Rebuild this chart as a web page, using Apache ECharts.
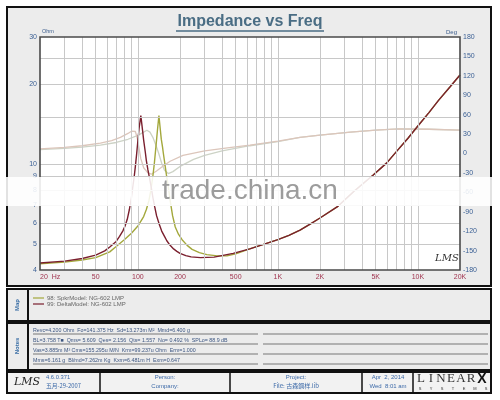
<!DOCTYPE html>
<html><head><meta charset="utf-8">
<script src="https://cdn.jsdelivr.net/npm/echarts@6/dist/echarts.min.js"></script>
<style>html,body{margin:0;padding:0;background:#fff}#c{width:500px;height:400px}</style>
</head><body><div id="c"></div>
<script>
// ---------- data ----------
const freqTicks = [20, 50, 100, 200, 500, 1000, 2000, 5000, 10000, 20000];
const freqTickLabels = ['20  Hz', '50', '100', '200', '500', '1K', '2K', '5K', '10K', '20K'];
const ohmTicks = [4, 5, 6, 7, 8, 9, 10, 20, 30];
const vGridFreqs = [30,40,50,60,70,80,90,100,200,300,400,500,600,700,800,900,1000,2000,3000,4000,5000,6000,7000,8000,9000,10000];
const hGridOhms = [5, 6, 7, 8, 9, 10, 15, 20, 25];

const freqDelta = [20,30,40,50,58,63,70,74,78,81,84,87,90,92,94,96,98,100,102,105,108,110,113,115,118,121,125,128,132,136,142,148,155,161,170,180,190,200,220,240,280,350,480,630,800,1000,1200,1440,1700,2000,2650,3500,4800,6000,7200,8500,10000,12000,14000,17000,20000];
const zDelta    = [4.25,4.32,4.42,4.55,4.72,4.88,5.12,5.35,5.6,5.85,6.2,6.75,7.5,8.2,8.9,9.8,10.9,12.2,13.6,15.2,13.4,12.3,11.1,10.3,9.5,8.9,8.1,7.5,6.9,6.4,5.95,5.6,5.35,5.15,4.95,4.8,4.7,4.62,4.53,4.48,4.45,4.47,4.62,4.8,5.0,5.2,5.4,5.65,5.95,6.27,6.9,7.9,9.1,10.1,11.3,12.5,13.9,15.6,17.3,19.5,21.6];

const freqSpkr = [20,30,40,50,63,70,80,90,100,110,115,120,124,128,131,135,138,141.4,144,147,150,152,156,160,165,170,177,185,195,207,225,244,275,311,370,433,500,630,800,1000,1200,1440,1700,2000,2650,3500,4800,6000,7200,8500,10000,12000,14000,17000,20000];
const zSpkr    = [4.22,4.28,4.36,4.45,4.68,4.9,5.2,5.5,5.85,6.35,6.75,7.3,8.0,9.0,10.0,11.8,13.4,15.2,13.8,12.4,11.6,11.0,10.0,9.1,8.2,7.3,6.4,5.8,5.45,5.2,4.95,4.78,4.65,4.57,4.52,4.52,4.6,4.8,5.0,5.2,5.4,5.65,5.95,6.27,6.9,7.9,9.1,10.1,11.3,12.5,13.9,15.6,17.3,19.5,21.6];

const freqPhDelta = [20,30,40,54,65,75,85,90,93,96,99,102,105,110,118,125,136,150,170,210,300,450,632,1000,1440,2000,3300,5000,7300,12000,20000];
const phDelta     = [7,9.5,12,16,20,25,31,34.5,36,34,24,8,-8,-22,-30,-32,-27,-20,-12,-3,4,9,13,19,25,28.5,33,36,38,37.5,36];

const freqPhSpkr = [20,30,40,54,70,85,100,110,116,122,128,135,141,148,155,165,178,200,250,300,400,632,1000,1440,2000,3300,5000,7300,12000,20000];
const phSpkr     = [6,8,10,13,17,22,28,33,36,33,25,12,0,-15,-26,-31,-28,-20,-9,-3,4,12,18.5,25,28.5,33,36,38,37.5,36];

const notesLines = [
  'Revc=4.200 Ohm  Fo=141.375 Hz  Sd=13.273m M²  Mmd=6.400 g',
  'BL=3.758 T■  Qms= 5.609  Qes= 2.156  Qts= 1.557  No= 0.492 %  SPLo= 88.9 dB',
  'Vas=3.885m M³ Cms=155.295u M/N  Krm=99.237u Ohm  Erm=1.000',
  'Mms=6.161 g  Bl/md=7.262m Kg  Kxm=6.481m H  Exm=0.647'
];
const legendNames = ['98: SpkrModel: NG-602 LMP', '99: DeltaModel: NG-602 LMP'];

// ---------- colours ----------
const cDelta = '#7a1f2e', cSpkr = '#a3a83c', cPhDelta = '#dcc6bb', cPhSpkr = '#cdd3c6';
const FONT = '"Liberation Sans", Arial, sans-serif';

const zip = (a, b) => a.map((v, i) => [v, b[i]]);

// ---------- graphics helpers ----------
const G = [];
function T(x, y, text, size, color, o) {
  o = o || {};
  const el = { type: 'text', x: x, y: y, z: o.z == null ? 20 : o.z, silent: true,
    style: { text: text, fontSize: size, fill: color, fontFamily: o.f || FONT,
      fontWeight: o.w || 'normal', fontStyle: o.it || 'normal',
      align: o.a || 'left', textAlign: o.a || 'left',
      verticalAlign: 'middle', textVerticalAlign: 'middle' } };
  if (o.rot) el.rotation = o.rot;
  G.push(el);
}
function R(x, y, w, h, fill, stroke, lw, z) {
  G.push({ type: 'rect', z: z == null ? -10 : z, silent: true, shape: { x: x, y: y, width: w, height: h },
    style: { fill: fill || 'none', stroke: stroke || 'none', lineWidth: lw || 0 } });
}
function L(x1, y1, x2, y2, color, lw, z) {
  G.push({ type: 'line', z: z == null ? -5 : z, silent: true, shape: { x1: x1, y1: y1, x2: x2, y2: y2 },
    style: { stroke: color, lineWidth: lw || 1 } });
}

// chart panel
R(7, 7, 484, 279, '#ececec', '#111', 2, -10);
// title
T(250, 22, 'Impedance vs Freq', 16, '#4a6d84', { a: 'center', w: 'bold' });
L(176, 31, 324, 31, '#4a6d84', 1.5, 20);
// axis names
T(42, 31, 'Ohm', 5.5, '#3a5c8c');
T(457, 32, 'Deg', 6, '#3a5c8c', { a: 'right' });
// LMS mark in plot
T(435, 258, 'LMS', 10, '#333', { it: 'italic', f: '"DejaVu Serif", serif' });
// plot frame
R(40, 37, 420, 233, null, '#4a4a4a', 1.6, 10);

// Map panel
R(7, 289, 484, 32, '#ececec', '#111', 2, -10);
L(28, 289, 28, 321, '#111', 2, -5);
T(17, 305, 'Map', 6, '#3a6ea5', { a: 'center', w: 'bold', rot: Math.PI / 2 });
L(33, 298, 44, 298, cSpkr, 1.2, 20);
L(33, 304, 44, 304, cDelta, 1.2, 20);
T(47, 298, legendNames[0], 6, '#666');
T(47, 304, legendNames[1], 6, '#666');

// Notes panel
R(7, 323, 484, 47, '#ececec', '#111', 2, -10);
L(28, 323, 28, 370, '#111', 2, -5);
T(17, 346, 'Notes', 6, '#3a6ea5', { a: 'center', w: 'bold', rot: Math.PI / 2 });
notesLines.forEach(function (s, i) {
  const y = 331 + i * 10;
  T(33, y, s, 5.3, '#3b5580');
  L(33, y + 3, 258, y + 3, '#777', 1, -5);
  L(263, y + 3, 488, y + 3, '#777', 1, -5);
});

// Footer
R(7, 372, 484, 21, '#f2f2f2', '#111', 2, -10);
[100, 230, 362, 413].forEach(function (x) { L(x, 372, x, 393, '#111', 1.5, -5); });
T(14, 382, 'LMS', 11, '#222', { it: 'italic', f: '"DejaVu Serif", serif' });
T(46, 377, '4.6.0.371', 5.8, '#3d6aa8');
T(46, 386, '五月-29-2007', 5.8, '#3d6aa8', { f: '"Noto Sans CJK SC", sans-serif' });
T(165, 377, 'Person:', 6, '#3d6aa8', { a: 'center' });
T(165, 386, 'Company:', 6, '#3d6aa8', { a: 'center' });
T(296, 377, 'Project:', 6, '#3d6aa8', { a: 'center' });
T(296, 386, 'File: 古森鋼样.lib', 6, '#3d6aa8', { a: 'center', f: '"Noto Sans CJK SC", sans-serif' });
T(388, 377, 'Apr  2, 2014', 6, '#3d6aa8', { a: 'center' });
T(388, 386, 'Wed  8:01 am', 6, '#3d6aa8', { a: 'center' });
['L','I','N','E','A','R'].forEach(function (ch, i) {
  T(421 + i * 10, 379, ch, 13, '#333', { a: 'center', f: '"Liberation Serif", serif' });
});
T(482, 379, 'X', 14, '#111', { a: 'center', w: 'bold' });
['S','Y','S','T','E','M','S'].forEach(function (ch, i) {
  T(420 + i * 11, 389, ch, 4, '#333', { a: 'center' });
});

// watermark band
R(0, 177, 500, 29, 'rgba(255,255,255,0.88)', null, 0, 100);
T(250, 191, 'trade.china.cn', 28, '#9c9c9c', { a: 'center', z: 101 });

// ---------- chart ----------
const chart = echarts.init(document.getElementById('c'), null, { renderer: 'canvas' });
const axisLbl = { fontSize: 7, fontFamily: FONT };
chart.setOption({
  animation: false,
  backgroundColor: '#fff',
  grid: { left: 40, right: 40, top: 37, bottom: 130, show: true, backgroundColor: '#fff', borderWidth: 0, containLabel: false, outerBoundsMode: 'none' },
  xAxis: {
    type: 'log', logBase: 10, min: 20, max: 20000,
    axisLine: { show: false }, axisTick: { show: false }, splitLine: { show: false }, minorSplitLine: { show: false },
    axisLabel: Object.assign({}, axisLbl, {
      color: '#a0344f', margin: 4, customValues: freqTicks, alignMinLabel: 'left',
      formatter: function (v) { let i = freqTicks.findIndex(function (t) { return Math.abs(t - v) / t < 1e-6; }); return i >= 0 ? freqTickLabels[i] : ''; }
    })
  },
  yAxis: [{
    type: 'log', logBase: 10, min: 4, max: 30,
    axisLine: { show: false }, axisTick: { show: false }, splitLine: { show: false },
    axisLabel: Object.assign({}, axisLbl, {
      color: '#3a5f94', margin: 3, customValues: ohmTicks,
      formatter: function (v) { return String(Math.round(v)); }
    })
  }, {
    type: 'value', min: -180, max: 180, interval: 30, position: 'right',
    axisLine: { show: false }, axisTick: { show: false }, splitLine: { show: false },
    axisLabel: Object.assign({}, axisLbl, { color: '#3a5f94', margin: 3 })
  }],
  series: [
    { type: 'line', name: 'grid', data: [[20, 4]], showSymbol: false, silent: true, z: 1,
      lineStyle: { width: 0 },
      markLine: { silent: true, symbol: ['none', 'none'], label: { show: false }, animation: false,
        lineStyle: { type: 'solid', color: '#c8c8c8', width: 1 },
        emphasis: { disabled: true },
        data: vGridFreqs.map(function (f) { return { xAxis: f }; }).concat(hGridOhms.map(function (o) { return { yAxis: o }; })) } },
    { type: 'line', name: 'phase 98', yAxisIndex: 1, data: zip(freqPhSpkr, phSpkr), showSymbol: false, smooth: false,
      lineStyle: { color: cPhSpkr, width: 1.3 }, z: 2 },
    { type: 'line', name: 'phase 99', yAxisIndex: 1, data: zip(freqPhDelta, phDelta), showSymbol: false, smooth: false,
      lineStyle: { color: cPhDelta, width: 1.3 }, z: 2 },
    { type: 'line', name: legendNames[0], data: zip(freqSpkr, zSpkr), showSymbol: false, smooth: false,
      lineStyle: { color: cSpkr, width: 1.4 }, z: 3 },
    { type: 'line', name: legendNames[1], data: zip(freqDelta, zDelta), showSymbol: false, smooth: false,
      lineStyle: { color: cDelta, width: 1.4 }, z: 4 }
  ],
  graphic: G
});
</script></body></html>
